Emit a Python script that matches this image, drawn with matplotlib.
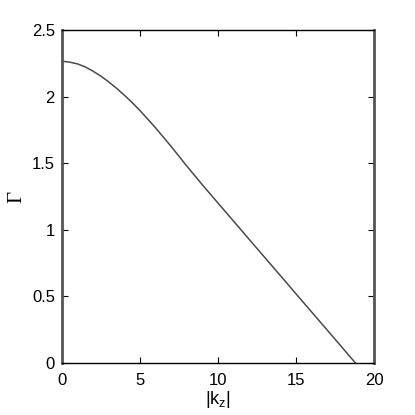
import matplotlib
matplotlib.use("Agg")
import matplotlib.pyplot as plt

# growth rate vs |k_z|
kz = [0, 0.5, 1, 1.5, 2, 2.5, 3, 3.5, 4, 4.5, 5, 6, 7, 8, 9, 10,
      11, 12, 13, 14, 15, 16, 17, 18, 18.8]
gamma = [2.265, 2.258, 2.245, 2.222, 2.19, 2.153, 2.11, 2.062, 2.01, 1.955,
         1.895, 1.765, 1.625, 1.478, 1.337, 1.200, 1.064, 0.927, 0.791,
         0.655, 0.518, 0.382, 0.246, 0.109, 0.0]

xticks = [0, 5, 10, 15, 20]
yticks = [0, 0.5, 1, 1.5, 2, 2.5]
ytick_labels = ['0', '0.5', '1', '1.5', '2', '2.5']

plt.rcParams['font.family'] = ['Liberation Sans', 'DejaVu Sans']
plt.rcParams['mathtext.fontset'] = 'custom'
plt.rcParams['mathtext.rm'] = 'Liberation Sans'
plt.rcParams['mathtext.it'] = 'Liberation Sans'

fig = plt.figure(figsize=(4.15, 4.15), dpi=100)
ax = fig.add_axes([0.149, 0.125, 0.753, 0.803])

ax.plot(kz, gamma, color='#4a4a4a', lw=1.1)

ax.set_xlim(0, 20)
ax.set_ylim(0, 2.5)
ax.set_xticks(xticks)
ax.set_yticks(yticks)
ax.set_xticklabels([str(t) for t in xticks])
ax.set_yticklabels(ytick_labels)
ax.tick_params(direction='in', length=4, width=0.8, top=True, right=True,
               labelsize=12, colors='black')
ax.tick_params(axis='x', pad=7)
ax.tick_params(axis='y', pad=5)

for side in ['top', 'bottom']:
    ax.spines[side].set_linewidth(1.0)
    ax.spines[side].set_color('black')
for side in ['left', 'right']:
    ax.spines[side].set_linewidth(2.0)
    ax.spines[side].set_color('#555555')

ax.set_xlabel(r'$|\mathrm{k}_z|$', fontsize=13, labelpad=1)
ax.set_ylabel('Γ', fontsize=15, family=['Liberation Serif', 'DejaVu Serif'],
              labelpad=4)

fig.savefig('out.png', dpi=100)
